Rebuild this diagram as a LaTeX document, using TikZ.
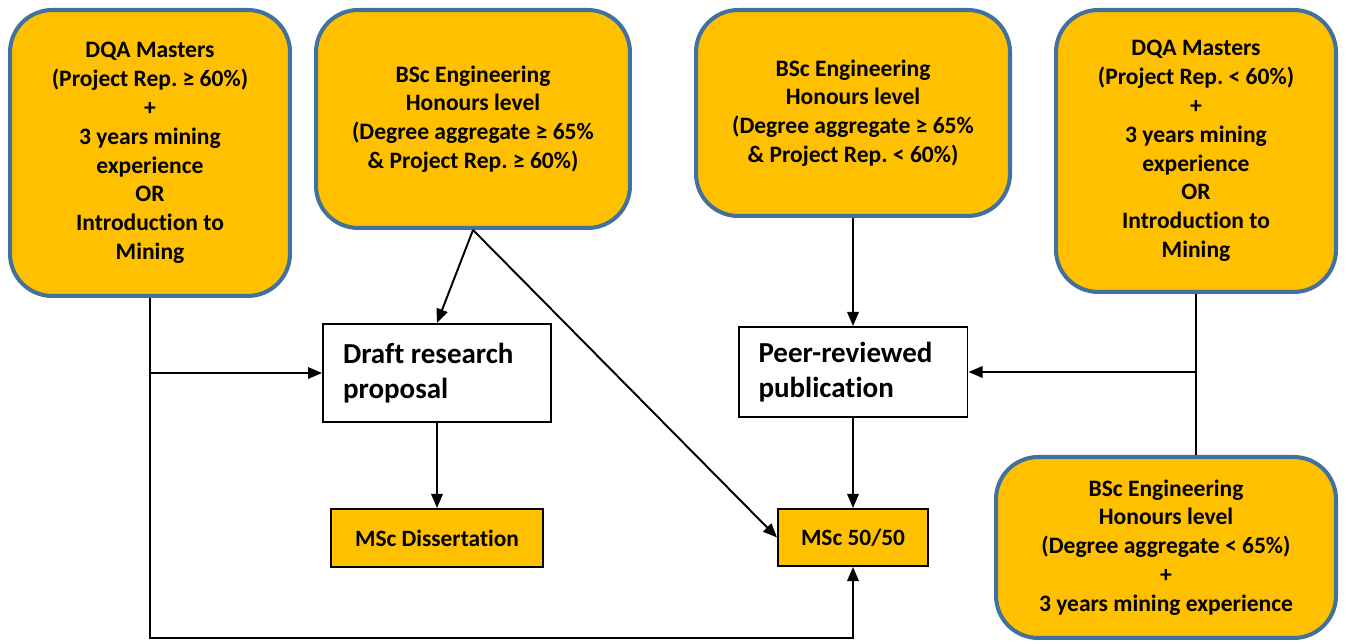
\documentclass[tikz,border=0pt]{standalone}
\usepackage{fontspec}
\setmainfont{Carlito}[Ligatures={NoCommon,NoContextual}]
\usetikzlibrary{arrows.meta}
\definecolor{gold}{HTML}{FFC000}
\definecolor{edgeblue}{HTML}{41719C}
\frenchspacing

\begin{document}
\begin{tikzpicture}[x=0.02cm,y=0.02cm,
    cond/.style={draw=edgeblue,line width=2.3pt,fill=gold,rounded corners=24pt,align=center,
      font=\bfseries\fontsize{13.4}{16.4}\selectfont},
    stage/.style={draw,line width=1.1pt,fill=white,align=flush left,inner xsep=0.4cm,
      font=\bfseries\fontsize{16.5}{19.8}\selectfont},
    degree/.style={draw,line width=1.1pt,fill=gold,align=center,
      font=\bfseries\fontsize{13.3}{16}\selectfont},
    arr/.style={line width=1.1pt,-{Triangle[length=8pt,width=6.5pt]}},
    link/.style={line width=1.1pt}]
    \useasboundingbox (0,0) rectangle (1348,644);

    % entry requirements
    \node [cond,minimum width=5.6cm,minimum height=5.72cm] (dqaHigh) at (150,491)
        {DQA Masters\\(Project Rep. ≥ 60\%)\\+\\3 years mining\\experience\\OR\\Introduction to\\Mining};
    \node [cond,minimum width=6.28cm,minimum height=4.36cm] (bscHigh) at (473,525)
        {BSc Engineering\\Honours level\\(Degree aggregate ≥ 65\%\\\& Project Rep. ≥ 60\%)};
    \node [cond,minimum width=6.28cm,minimum height=4.12cm] (bscMid) at (853,531)
        {BSc Engineering\\Honours level\\(Degree aggregate ≥ 65\%\\\& Project Rep. < 60\%)};
    \node [cond,minimum width=5.6cm,minimum height=5.64cm] (dqaLow) at (1196,493)
        {DQA Masters\\(Project Rep. < 60\%)\\+\\3 years mining\\experience\\OR\\Introduction to\\Mining};
    \node [cond,minimum width=6.8cm,minimum height=3.62cm] (bscLow) at (1166,96.5)
        {BSc Engineering\\Honours level\\(Degree aggregate < 65\%)\\+\\3 years mining experience};

    % stages and degrees
    \node [stage,text width=3.76cm,minimum height=1.96cm] (draft) at (437,271) {Draft research\\proposal};
    \node [stage,text width=3.78cm,minimum height=1.8cm] (peer) at (853,272) {Peer-reviewed\\publication};
    \node [degree,minimum width=4.24cm,minimum height=1.16cm] (diss) at (437,106) {MSc Dissertation};
    \node [degree,minimum width=3cm,minimum height=1.14cm] (fifty) at (853,106.5) {MSc 50/50};

    \coordinate (bend) at (150,6);

    \draw [arr] (dqaHigh.south) -- (bend) -| (fifty.south);
    \draw [arr] (dqaHigh.south |- draft.west) -- (draft.west);
    \draw [arr] (bscHigh.south) -- (draft.north);
    \draw [arr] (bscHigh.south) -- (fifty.west);
    \draw [arr] (draft.south) -- (diss.north);
    \draw [arr] (bscMid.south) -- (peer.north);
    \draw [arr] (peer.south) -- (fifty.north);
    \draw [link] (dqaLow.south) -- (dqaLow.south |- bscLow.north);
    \draw [arr] (dqaLow.south |- peer.east) -- (peer.east);
\end{tikzpicture}
\end{document}
